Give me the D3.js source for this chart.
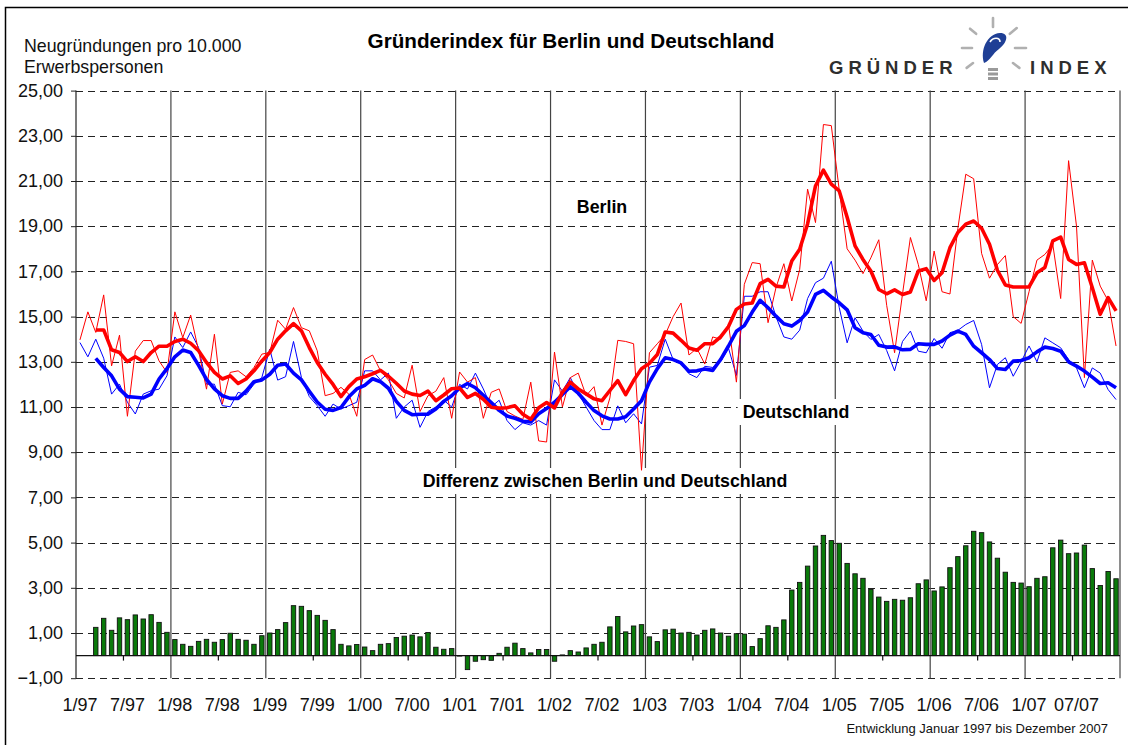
<!DOCTYPE html>
<html>
<head>
<meta charset="utf-8">
<script src="https://cdn.jsdelivr.net/npm/d3@7"></script>
<style>
  body { margin: 0; background: #fff; }
  svg { display: block; font-family: "Liberation Sans", Arial, sans-serif; }
</style>
</head>
<body>
<svg id="chart" width="1128" height="745"></svg>
<script>
// categories: one per month, Jan 1997 .. Dec 2007
const years = d3.range(1997, 2008);
const months = years.flatMap(yr => d3.range(1, 13).map(m => m + "/" + String(yr).slice(2)));

const tickLabels = ["1/97","7/97","1/98","7/98","1/99","7/99","1/00","7/00","1/01","7/01",
  "1/02","7/02","1/03","7/03","1/04","7/04","1/05","7/05","1/06","7/06","1/07","07/07"];

// Berlin, monthly value (thin red)
const berlin = [
  13.97,15.21,14.30,15.96,12.82,14.18,10.59,13.47,13.94,13.94,13.04,12.53,
  15.21,14.07,15.07,13.49,11.79,14.22,11.13,12.53,12.60,12.34,12.75,13.34,
  13.41,14.84,14.44,15.40,14.51,14.37,13.49,11.50,11.60,11.87,11.57,10.59,
  13.10,13.30,12.60,12.20,11.60,11.40,12.85,10.80,11.50,11.70,12.30,10.50,
  12.55,12.10,12.30,10.50,11.65,11.80,10.80,10.60,10.45,12.10,9.50,9.45,
  13.43,11.00,12.30,12.50,11.50,11.90,10.20,11.40,13.95,13.90,13.80,8.20,
  13.40,13.80,14.20,15.00,15.60,13.30,13.60,12.90,14.10,14.00,14.65,12.10,
  16.43,17.39,17.34,14.73,16.28,17.34,15.69,17.09,20.64,19.16,23.50,23.45,
  20.60,18.00,17.50,16.90,17.60,18.40,15.50,13.40,16.00,18.50,17.30,15.70,
  17.90,16.10,16.00,18.90,21.30,21.10,17.80,16.70,17.30,17.70,15.00,14.70,
  16.10,17.50,17.75,18.20,15.80,21.90,19.00,12.30,17.50,16.35,15.70,13.70
];

// Berlin, smoothed (thick red)
const berlinAvg = [
  null,null,14.41,14.41,13.53,13.41,13.01,13.22,13.01,13.41,13.69,13.69,
  13.90,14.00,13.82,13.49,12.97,12.53,12.24,12.38,12.04,12.24,12.60,13.04,
  13.41,14.00,14.37,14.69,14.37,13.63,12.97,12.45,12.00,11.46,11.90,12.24,
  12.34,12.47,12.62,12.36,12.05,11.71,11.57,11.51,11.70,11.28,11.53,11.81,
  11.84,11.42,11.60,11.34,10.99,10.95,10.97,11.05,10.68,10.46,10.97,11.20,
  10.96,11.65,12.10,11.80,11.58,11.36,11.28,11.73,12.17,11.55,12.17,12.69,
  12.93,13.32,14.32,14.27,13.95,13.61,13.51,13.80,13.80,14.10,14.56,15.32,
  15.56,15.60,16.46,16.65,16.35,16.31,17.46,17.98,19.10,20.78,21.48,20.86,
  20.56,19.40,18.13,17.53,17.02,16.20,16.01,16.18,15.98,16.09,17.02,17.12,
  16.60,16.94,18.05,18.72,19.09,19.23,18.91,18.20,17.05,16.40,16.31,16.31,
  16.31,16.94,17.17,18.35,18.52,17.53,17.31,17.38,16.28,15.10,15.84,15.25
];

// Deutschland, monthly value (thin blue)
const deutschland = [
  13.85,13.22,14.00,13.16,11.57,12.01,11.21,10.69,11.57,11.72,11.79,12.38,
  14.10,13.63,14.32,13.63,12.01,12.01,11.06,11.01,11.65,11.54,12.01,12.31,
  13.56,12.19,12.34,13.90,12.31,11.46,11.06,10.59,11.13,10.91,11.06,11.21,
  12.60,12.60,12.20,12.50,10.50,11.00,11.30,10.10,10.80,11.00,11.30,11.00,
  12.00,11.80,12.50,11.80,11.00,11.30,10.40,10.00,10.30,10.20,10.40,10.20,
  12.20,11.70,12.30,11.60,11.00,10.40,10.00,10.00,11.05,10.30,10.70,10.25,
  12.76,12.84,14.00,13.10,12.90,12.47,12.30,12.80,12.75,13.00,13.60,12.40,
  15.90,15.90,16.10,16.10,15.00,14.10,14.00,14.40,15.80,16.50,16.70,17.45,
  15.40,13.84,14.95,14.36,13.99,14.21,13.50,12.60,13.90,14.36,13.47,13.40,
  14.03,13.60,14.29,14.39,14.65,14.83,13.77,11.85,12.88,13.18,12.36,13.00,
  13.70,13.00,14.06,13.84,13.62,13.10,12.73,11.85,12.73,12.50,11.77,11.33
];

// Deutschland, smoothed (thick blue)
const deutschlandAvg = [
  null,null,13.15,12.75,12.38,11.79,11.46,11.43,11.40,11.57,12.24,12.70,
  13.22,13.52,13.41,12.84,12.22,11.80,11.50,11.38,11.38,11.70,12.12,12.20,
  12.45,12.85,12.90,12.50,12.20,11.70,11.22,10.90,10.85,10.98,11.45,11.80,
  11.96,12.25,12.12,11.83,11.25,10.85,10.66,10.68,10.68,10.91,11.25,11.50,
  11.84,12.04,11.85,11.52,11.20,10.85,10.60,10.50,10.37,10.34,10.70,10.93,
  11.21,11.55,11.90,11.61,11.21,10.84,10.61,10.47,10.47,10.57,10.91,11.28,
  12.10,12.70,13.18,13.10,12.95,12.58,12.60,12.68,12.62,13.10,13.70,14.35,
  14.60,15.20,15.72,15.39,15.02,14.68,14.58,14.83,15.20,15.98,16.16,15.87,
  15.61,15.30,14.51,14.29,14.21,13.73,13.65,13.66,13.53,13.55,13.80,13.77,
  13.77,13.92,14.18,14.36,14.21,13.69,13.40,13.10,12.70,12.66,13.03,13.06,
  13.18,13.44,13.65,13.59,13.47,13.00,12.81,12.59,12.32,12.04,12.07,11.85
];

// Differenz zwischen Berlin und Deutschland (green bars)
const differenz = [
  null,null,1.25,1.65,1.12,1.67,1.59,1.80,1.62,1.81,1.47,1.03,
  0.71,0.50,0.41,0.63,0.72,0.59,0.71,0.99,0.72,0.68,0.50,0.88,
  1.00,1.15,1.46,2.21,2.18,1.99,1.78,1.56,1.15,0.50,0.43,0.49,
  0.38,0.22,0.50,0.53,0.80,0.86,0.91,0.83,1.02,0.37,0.28,0.31,
  -0.02,-0.62,-0.25,-0.18,-0.21,0.10,0.37,0.55,0.31,0.12,0.27,0.27,
  -0.25,0.03,0.22,0.16,0.34,0.50,0.59,1.27,1.73,1.05,1.31,1.37,
  0.83,0.62,1.14,1.17,1.00,1.03,0.91,1.12,1.18,1.00,0.86,0.97,
  0.95,0.40,0.75,1.32,1.25,1.58,2.90,3.24,3.96,4.85,5.32,5.09,
  4.97,4.08,3.62,3.42,2.93,2.59,2.40,2.49,2.45,2.56,3.18,3.35,
  2.86,3.04,3.89,4.38,4.86,5.50,5.44,5.03,4.31,3.69,3.24,3.21,
  3.05,3.42,3.49,4.77,5.11,4.51,4.54,4.89,3.85,3.10,3.72,3.40
];

const yTicks = d3.range(-1, 26, 2);

const svg = d3.select("#chart");
const W = 1128, H = 745;
const plotLeft = 76, plotRight = 1120;

svg.append("rect").attr("width", W).attr("height", H).attr("fill", "#fff");

// frame around the picture (top and left edge visible)
svg.append("path")
  .attr("d", "M5.5,745 V7.5 H1128")
  .attr("fill", "none").attr("stroke", "#000").attr("stroke-width", 1.5);

const x = d3.scaleBand().domain(months).range([plotLeft, plotRight]).padding(0);
const cx = i => x(months[i]) + x.bandwidth() / 2;
const y = d3.scaleLinear().domain([-1, 25]).range([678.2, 90.6]);

const fmt = v => d3.format(".2f")(v).replace(".", ",");

// horizontal dashed gridlines
svg.append("g").selectAll("line")
  .data(yTicks)
  .join("line")
  .attr("x1", plotLeft).attr("x2", plotRight)
  .attr("y1", d => Math.round(y(d)) + 0.5).attr("y2", d => Math.round(y(d)) + 0.5)
  .attr("stroke", "#222").attr("stroke-width", 1)
  .attr("stroke-dasharray", "7,5");

// vertical gridlines at each January + right edge
const yearStarts = d3.range(12, months.length + 1, 12);
svg.append("g").selectAll("line")
  .data(yearStarts)
  .join("line")
  .attr("x1", d => d < months.length ? x(months[d]) : plotRight)
  .attr("x2", d => d < months.length ? x(months[d]) : plotRight)
  .attr("y1", y(25)).attr("y2", y(-1))
  .attr("stroke", "#444").attr("stroke-width", 1.2);

// y axis
const yAxis = svg.append("g").attr("transform", `translate(${plotLeft},0)`)
  .call(d3.axisLeft(y).tickValues(yTicks).tickFormat(fmt).tickSize(5).tickPadding(8));
yAxis.select(".domain").attr("stroke", "#222").attr("stroke-width", 1.2).attr("d", `M0,${y(25)}V${y(-1)}`);
yAxis.selectAll(".tick line").attr("stroke", "#222");
yAxis.selectAll("text").attr("font-size", 18).attr("fill", "#111")
  .attr("font-family", "'Liberation Sans', Arial, sans-serif");

// series labels with white boxes
const labels = [
  { text: "Berlin", x: 602, y: 213 },
  { text: "Deutschland", x: 796, y: 418 },
  { text: "Differenz zwischen Berlin und Deutschland", x: 605, y: 487 }
];
const lab = svg.append("g");
labels.forEach(l => {
  const t = lab.append("text").attr("x", l.x).attr("y", l.y)
    .attr("text-anchor", "middle").attr("font-size", 17.8).attr("font-weight", "bold")
    .attr("fill", "#000").text(l.text);
  const bb = t.node().getBBox();
  lab.insert("rect", "text").attr("x", bb.x - 5).attr("y", bb.y - 3)
    .attr("width", bb.width + 10).attr("height", bb.height + 6).attr("fill", "#fff");
});

// difference bars
svg.append("g").selectAll("rect")
  .data(differenz.map((v, i) => ({ v, i })).filter(d => d.v !== null))
  .join("rect")
  .attr("x", d => cx(d.i) - 2.2)
  .attr("width", 4.4)
  .attr("y", d => Math.min(y(d.v), y(0)))
  .attr("height", d => Math.abs(y(d.v) - y(0)))
  .attr("fill", "#0a7a0a")
  .attr("stroke", "#111").attr("stroke-width", 0.9);

// zero axis with half-year ticks
svg.append("line")
  .attr("x1", plotLeft).attr("x2", plotRight)
  .attr("y1", y(0)).attr("y2", y(0))
  .attr("stroke", "#111").attr("stroke-width", 1.3);
svg.append("g").selectAll("line")
  .data(d3.range(6, months.length, 12))
  .join("line")
  .attr("x1", d => x(months[d])).attr("x2", d => x(months[d]))
  .attr("y1", y(0)).attr("y2", y(0) + 5)
  .attr("stroke", "#111").attr("stroke-width", 1.2);

// x tick labels every six months
svg.append("g").selectAll("text")
  .data(tickLabels)
  .join("text")
  .attr("x", (d, k) => cx(k * 6))
  .attr("y", 710.5)
  .attr("text-anchor", "middle")
  .attr("font-size", 18).attr("fill", "#111")
  .text(d => d);

// lines
const line = d3.line()
  .defined(d => d.v !== null)
  .x(d => cx(d.i))
  .y(d => y(d.v));
const asPts = arr => arr.map((v, i) => ({ v, i }));

svg.append("path").datum(asPts(deutschland))
  .attr("d", line).attr("fill", "none").attr("stroke", "#0000ff").attr("stroke-width", 1);
svg.append("path").datum(asPts(berlin))
  .attr("d", line).attr("fill", "none").attr("stroke", "#ff0000").attr("stroke-width", 1);
svg.append("path").datum(asPts(deutschlandAvg))
  .attr("d", line).attr("fill", "none").attr("stroke", "#0000ff").attr("stroke-width", 3.6)
  .attr("stroke-linejoin", "round");
svg.append("path").datum(asPts(berlinAvg))
  .attr("d", line).attr("fill", "none").attr("stroke", "#ff0000").attr("stroke-width", 3.6)
  .attr("stroke-linejoin", "round");

// title and axis caption
svg.append("text").attr("x", 571).attr("y", 47.5).attr("text-anchor", "middle")
  .attr("font-size", 20.7).attr("font-weight", "bold").text("Gründerindex für Berlin und Deutschland");
svg.append("text").attr("x", 24).attr("y", 52).attr("font-size", 17.8).attr("fill", "#111")
  .text("Neugründungen pro 10.000");
svg.append("text").attr("x", 24).attr("y", 73).attr("font-size", 17.8).attr("fill", "#111")
  .text("Erwerbspersonen");

svg.append("text").attr("x", 1108).attr("y", 733).attr("text-anchor", "end")
  .attr("font-size", 13).attr("fill", "#111")
  .text("Entwicklung Januar 1997 bis Dezember 2007");

// logo
const logo = svg.append("g");
logo.append("text").attr("x", 829).attr("y", 74).attr("font-size", 18.5).attr("font-weight", "bold")
  .attr("letter-spacing", 5).attr("fill", "#2e2e2e").text("GRÜNDER");
logo.append("text").attr("x", 1030).attr("y", 74).attr("font-size", 18.5).attr("font-weight", "bold")
  .attr("letter-spacing", 5).attr("fill", "#2e2e2e").text("INDEX");
const bx = 993, by = 48;
[[-90, 21, 30], [-140, 22, 30], [180, 21, 31], [143, 25, 33], [-40, 22, 31], [0, 22, 33], [37, 25, 33]]
  .forEach(([a, r1, r2]) => {
    const rad = a * Math.PI / 180;
    logo.append("line")
      .attr("x1", bx + r1 * Math.cos(rad)).attr("y1", by + r1 * Math.sin(rad))
      .attr("x2", bx + r2 * Math.cos(rad)).attr("y2", by + r2 * Math.sin(rad))
      .attr("stroke", "#b0b0b0").attr("stroke-width", 2.6).attr("stroke-linecap", "round");
  });
logo.append("path")
  .attr("d", `M${bx - 9},${by + 15} C${bx - 13},${by + 2} ${bx - 6},${by - 14} ${bx + 7},${by - 15}
     C${bx + 17},${by - 15} ${bx + 14},${by - 5} ${bx + 6},${by + 1} C${bx},${by + 5} ${bx - 3},${by + 13} ${bx - 9},${by + 15} Z`)
  .attr("fill", "#1f3f95");
logo.append("path")
  .attr("d", `M${bx - 3},${by - 6} C${bx},${by - 11} ${bx + 7},${by - 11} ${bx + 7},${by - 6}`)
  .attr("fill", "none").attr("stroke", "#fff").attr("stroke-width", 1.6);
[0, 4.5, 9].forEach(k => {
  logo.append("rect").attr("x", bx - 5).attr("y", by + 20 + k).attr("width", 10).attr("height", 3)
    .attr("fill", "#9a9a9a");
});
</script>
</body>
</html>
